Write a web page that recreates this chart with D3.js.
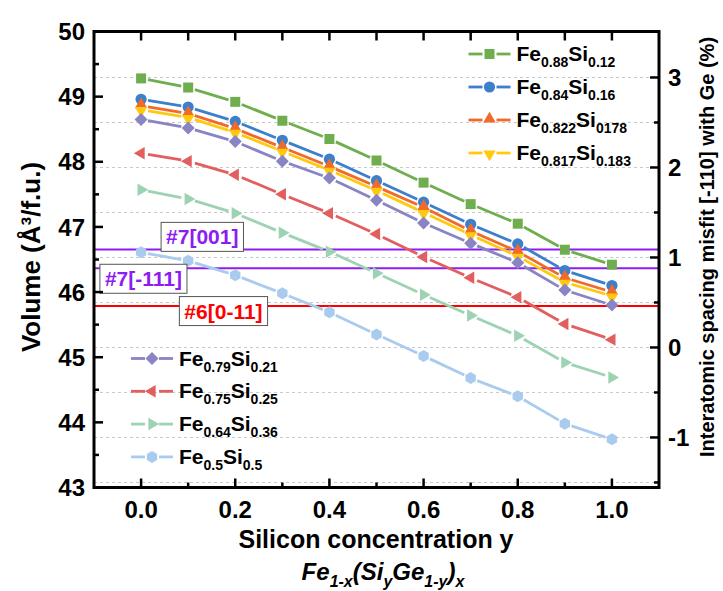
<!DOCTYPE html>
<html>
<head>
<meta charset="utf-8">
<script src="https://cdn.jsdelivr.net/npm/d3@7"></script>
<style>
  body { margin: 0; background: #fff; }
  svg { display: block; }
  text { font-family: "Liberation Sans", Arial, Helvetica, sans-serif; font-weight: bold; fill: #000; }
</style>
</head>
<body>
<svg id="chart" width="723" height="591"></svg>
<script>
// Silicon concentration y (x axis)
const siConc = [0.0, 0.1, 0.2, 0.3, 0.4, 0.5, 0.6, 0.7, 0.8, 0.9, 1.0];

// Volume per formula unit (Å³) for each Fe(1-x) content
const volFe088 = [49.28, 49.14, 48.92, 48.63, 48.35, 48.02, 47.68, 47.35, 47.05, 46.65, 46.42];
const volFe084 = [48.96, 48.84, 48.62, 48.33, 48.04, 47.71, 47.38, 47.04, 46.74, 46.33, 46.10];
const volFe0822 = [48.86, 48.74, 48.51, 48.22, 47.93, 47.62, 47.30, 46.94, 46.62, 46.22, 46.00];
const volFe0817 = [48.80, 48.68, 48.45, 48.16, 47.87, 47.56, 47.22, 46.88, 46.55, 46.15, 45.94];
const volFe079 = [48.65, 48.52, 48.31, 48.01, 47.75, 47.41, 47.06, 46.75, 46.45, 46.03, 45.80];
const volFe075 = [48.13, 48.01, 47.80, 47.50, 47.21, 46.89, 46.54, 46.22, 45.92, 45.51, 45.27];
const volFe064 = [47.57, 47.43, 47.21, 46.91, 46.62, 46.29, 45.96, 45.64, 45.33, 44.92, 44.69];
const volFe050 = [46.61, 46.48, 46.26, 45.98, 45.69, 45.35, 45.02, 44.68, 44.40, 43.98, 43.74];

const seriesFe = ["0.88", "0.84", "0.822", "0.817", "0.79", "0.75", "0.64", "0.5"];
const seriesSi = ["0.12", "0.16", "0178", "0.183", "0.21", "0.25", "0.36", "0.5"];
const seriesValues = [volFe088, volFe084, volFe0822, volFe0817, volFe079, volFe075, volFe064, volFe050];
const seriesColors = ["#6FAE4E", "#3C7FCA", "#F26A28", "#FFC90E", "#8984C4", "#E35E5E", "#9DD3B2", "#A9CCEE"];
const seriesSymbols = ["square", "circle", "triUp", "triDown", "diamond", "triLeft", "triRight", "hexagon"];

// Misfit reference lines (right axis, %)
const refLabels = ["#7[001]", "#7[-111]", "#6[0-11]"];
const refValues = [1.09, 0.88, 0.46];
const refColors = ["#8E1CF2", "#8E1CF2", "#FF0000"];

// Axis ticks
const xTicks = [0.0, 0.2, 0.4, 0.6, 0.8, 1.0];
const xMinor = [0.1, 0.3, 0.5, 0.7, 0.9];
const xTopTicks = [0.0, 0.1, 0.2, 0.3, 0.4, 0.5, 0.6, 0.7, 0.8, 0.9, 1.0];
const leftTicks = [43, 44, 45, 46, 47, 48, 49, 50];
const leftMinor = [43.5, 44.5, 45.5, 46.5, 47.5, 48.5, 49.5];
const rightTicks = [-1, 0, 1, 2, 3];
const rightMinor = [-1.5, -0.5, 0.5, 1.5, 2.5];

const svg = d3.select("#chart");
const W = 723, H = 591;
const plot = { left: 94, right: 659, top: 31.5, bottom: 487.5 };

const x = d3.scaleLinear().domain([-0.1, 1.1]).range([plot.left, plot.right]);
const yL = d3.scaleLinear().domain([43, 50]).range([plot.bottom, plot.top]);
const yR = d3.scaleLinear().domain([-1.556, 3.511]).range([plot.bottom, plot.top]);

svg.append("rect").attr("width", W).attr("height", H).attr("fill", "#fff");

// Dotted grid at the right-axis ticks
const gridVals = rightTicks.concat(rightMinor);
svg.append("g").selectAll("line").data(gridVals).join("line")
  .attr("x1", plot.left).attr("x2", plot.right)
  .attr("y1", d => yR(d)).attr("y2", d => yR(d))
  .attr("stroke", "#c8c8c8").attr("stroke-width", 1).attr("stroke-dasharray", "3,3");

// Marker shapes
function symbolPath(kind) {
  const p = d3.path();
  switch (kind) {
    case "square": { const s = 5; p.rect(-s, -s, 2 * s, 2 * s); break; }
    case "circle": { p.arc(0, 0, 5.6, 0, 2 * Math.PI); break; }
    case "diamond": { const s = 6.5; p.moveTo(0, -s); p.lineTo(s, 0); p.lineTo(0, s); p.lineTo(-s, 0); p.closePath(); break; }
    case "hexagon": {
      const r = 6;
      for (let i = 0; i < 6; i++) {
        const a = Math.PI / 6 + i * Math.PI / 3;
        if (i === 0) p.moveTo(r * Math.cos(a), r * Math.sin(a)); else p.lineTo(r * Math.cos(a), r * Math.sin(a));
      }
      p.closePath(); break;
    }
    default: {
      // triangle pointing up, rotated afterwards
      const r = 7.2;
      p.moveTo(0, -r);
      p.lineTo(r * Math.cos(Math.PI / 6), r * 0.5);
      p.lineTo(-r * Math.cos(Math.PI / 6), r * 0.5);
      p.closePath();
    }
  }
  return p.toString();
}
const symbolRot = { triUp: 0, triDown: 180, triLeft: -90, triRight: 90 };
const symbolShift = { triUp: -1, triDown: 1, triLeft: 0, triRight: 0 };

function drawMarker(g, kind, cx, cy, color) {
  const rot = symbolRot[kind] || 0;
  const dy = symbolShift[kind] || 0;
  g.append("path").attr("d", symbolPath(kind))
    .attr("transform", `translate(${cx},${cy + dy}) rotate(${rot})`)
    .attr("fill", color).attr("stroke", "none");
}

// Line segments with a small gap around each symbol
const GAP = 7;
function drawGappedLine(g, pts, color) {
  for (let i = 0; i < pts.length - 1; i++) {
    const [x1, y1] = pts[i], [x2, y2] = pts[i + 1];
    const dx = x2 - x1, dy = y2 - y1, len = Math.hypot(dx, dy);
    if (len <= 2 * GAP) continue;
    const ux = dx / len, uy = dy / len;
    g.append("line")
      .attr("x1", x1 + ux * GAP).attr("y1", y1 + uy * GAP)
      .attr("x2", x2 - ux * GAP).attr("y2", y2 - uy * GAP)
      .attr("stroke", color).attr("stroke-width", 2.8).attr("stroke-linecap", "butt");
  }
}

// Reference misfit lines
const refG = svg.append("g");
refValues.forEach((v, i) => {
  refG.append("line")
    .attr("x1", plot.left).attr("x2", plot.right)
    .attr("y1", yR(v)).attr("y2", yR(v))
    .attr("stroke", refColors[i]).attr("stroke-width", 2);
});

// Data series
const seriesG = svg.append("g");
seriesValues.forEach((vals, si) => {
  const g = seriesG.append("g");
  const pts = siConc.map((c, i) => [x(c), yL(vals[i])]);
  drawGappedLine(g, pts, seriesColors[si]);
  pts.forEach(([px, py]) => drawMarker(g, seriesSymbols[si], px, py, seriesColors[si]));
});

// Boxed labels for the reference lines
const refBoxX = [x(0.13), x(0.005), x(0.175)];
const refBoxDy = [-12.5, 10.5, 5];
refLabels.forEach((lab, i) => {
  const g = svg.append("g");
  const cy = yR(refValues[i]) + refBoxDy[i];
  const t = g.append("text").attr("x", refBoxX[i]).attr("y", cy).attr("dy", "0.36em")
    .attr("text-anchor", "middle").attr("font-size", 21).style("fill", refColors[i]).text(lab);
  const bb = t.node().getBBox();
  g.insert("rect", "text")
    .attr("x", bb.x - 5).attr("y", cy - 14.5).attr("width", bb.width + 10).attr("height", 29)
    .attr("fill", "#fff").attr("stroke", "#555").attr("stroke-width", 1);
});

// Frame
svg.append("rect")
  .attr("x", plot.left).attr("y", plot.top)
  .attr("width", plot.right - plot.left).attr("height", plot.bottom - plot.top)
  .attr("fill", "none").attr("stroke", "#000").attr("stroke-width", 3);

// Ticks (all pointing into the plot)
const tickG = svg.append("g").attr("stroke", "#000").attr("stroke-width", 2.5);
function hTick(y0, x0, len) { tickG.append("line").attr("x1", x0).attr("x2", x0 + len).attr("y1", y0).attr("y2", y0); }
function vTick(x0, y0, len) { tickG.append("line").attr("x1", x0).attr("x2", x0).attr("y1", y0).attr("y2", y0 + len); }
xTicks.forEach(v => vTick(x(v), plot.bottom, -9));
xMinor.forEach(v => vTick(x(v), plot.bottom, -5));
xTopTicks.forEach(v => vTick(x(v), plot.top, 9));
leftTicks.filter(v => v > 43 && v < 50).forEach(v => hTick(yL(v), plot.left, 9));
leftMinor.forEach(v => hTick(yL(v), plot.left, 5));
rightTicks.forEach(v => hTick(yR(v), plot.right, -9));
rightMinor.forEach(v => hTick(yR(v), plot.right, -5));

// Tick labels
const labG = svg.append("g").attr("font-size", 24);
xTicks.forEach(v => labG.append("text").attr("x", x(v)).attr("y", 518)
  .attr("text-anchor", "middle").text(d3.format(".1f")(v)));
leftTicks.forEach(v => labG.append("text").attr("x", 85).attr("y", yL(v)).attr("dy", "0.36em")
  .attr("text-anchor", "end").text(v));
rightTicks.forEach(v => labG.append("text").attr("x", 668).attr("y", yR(v)).attr("dy", "0.36em")
  .attr("text-anchor", "start").text(v));

// Axis titles
svg.append("text").attr("transform", `translate(31,257) rotate(-90)`)
  .attr("text-anchor", "middle").attr("dy", "0.36em").attr("font-size", 26)
  .text("Volume (Å³/f.u.)");
svg.append("text").attr("transform", `translate(707,247) rotate(-90)`)
  .attr("text-anchor", "middle").attr("dy", "0.36em").attr("font-size", 20)
  .text("Interatomic spacing misfit [-110] with Ge (%)");
svg.append("text").attr("x", 376).attr("y", 548).attr("text-anchor", "middle")
  .attr("font-size", 25).text("Silicon concentration y");

// Formula line with subscripts
const formula = svg.append("text").attr("x", 383).attr("y", 580).attr("text-anchor", "middle")
  .attr("font-size", 24).attr("font-style", "italic");
const formulaParts = [["Fe", 0], ["1-x", 1], ["(Si", 0], ["y", 1], ["Ge", 0], ["1-y", 1], [")", 0], ["x", 1]];
let prevSub = 0;
formulaParts.forEach(([s, sub]) => {
  formula.append("tspan").attr("dy", (sub - prevSub) * 7).attr("font-size", sub ? 16 : 24).text(s);
  prevSub = sub;
});

// Legends
function legendEntry(g, i, lx, ly) {
  const color = seriesColors[i];
  g.append("line").attr("x1", lx - 21).attr("x2", lx - GAP).attr("y1", ly).attr("y2", ly)
    .attr("stroke", color).attr("stroke-width", 2.8);
  g.append("line").attr("x1", lx + GAP).attr("x2", lx + 21).attr("y1", ly).attr("y2", ly)
    .attr("stroke", color).attr("stroke-width", 2.8);
  drawMarker(g, seriesSymbols[i], lx, ly, color);
  const t = g.append("text").attr("x", lx + 27).attr("y", ly + 7).attr("font-size", 21);
  t.append("tspan").text("Fe");
  t.append("tspan").attr("dy", 6).attr("font-size", 14).text(seriesFe[i]);
  t.append("tspan").attr("dy", -6).text("Si");
  t.append("tspan").attr("dy", 6).attr("font-size", 14).text(seriesSi[i]);
}
const legTop = svg.append("g");
[0, 1, 2, 3].forEach((i, k) => legendEntry(legTop, i, 489.5, 54 + k * 33));
const legBottom = svg.append("g");
[4, 5, 6, 7].forEach((i, k) => legendEntry(legBottom, i, 152, 358.5 + k * 32.8));
</script>
</body>
</html>
